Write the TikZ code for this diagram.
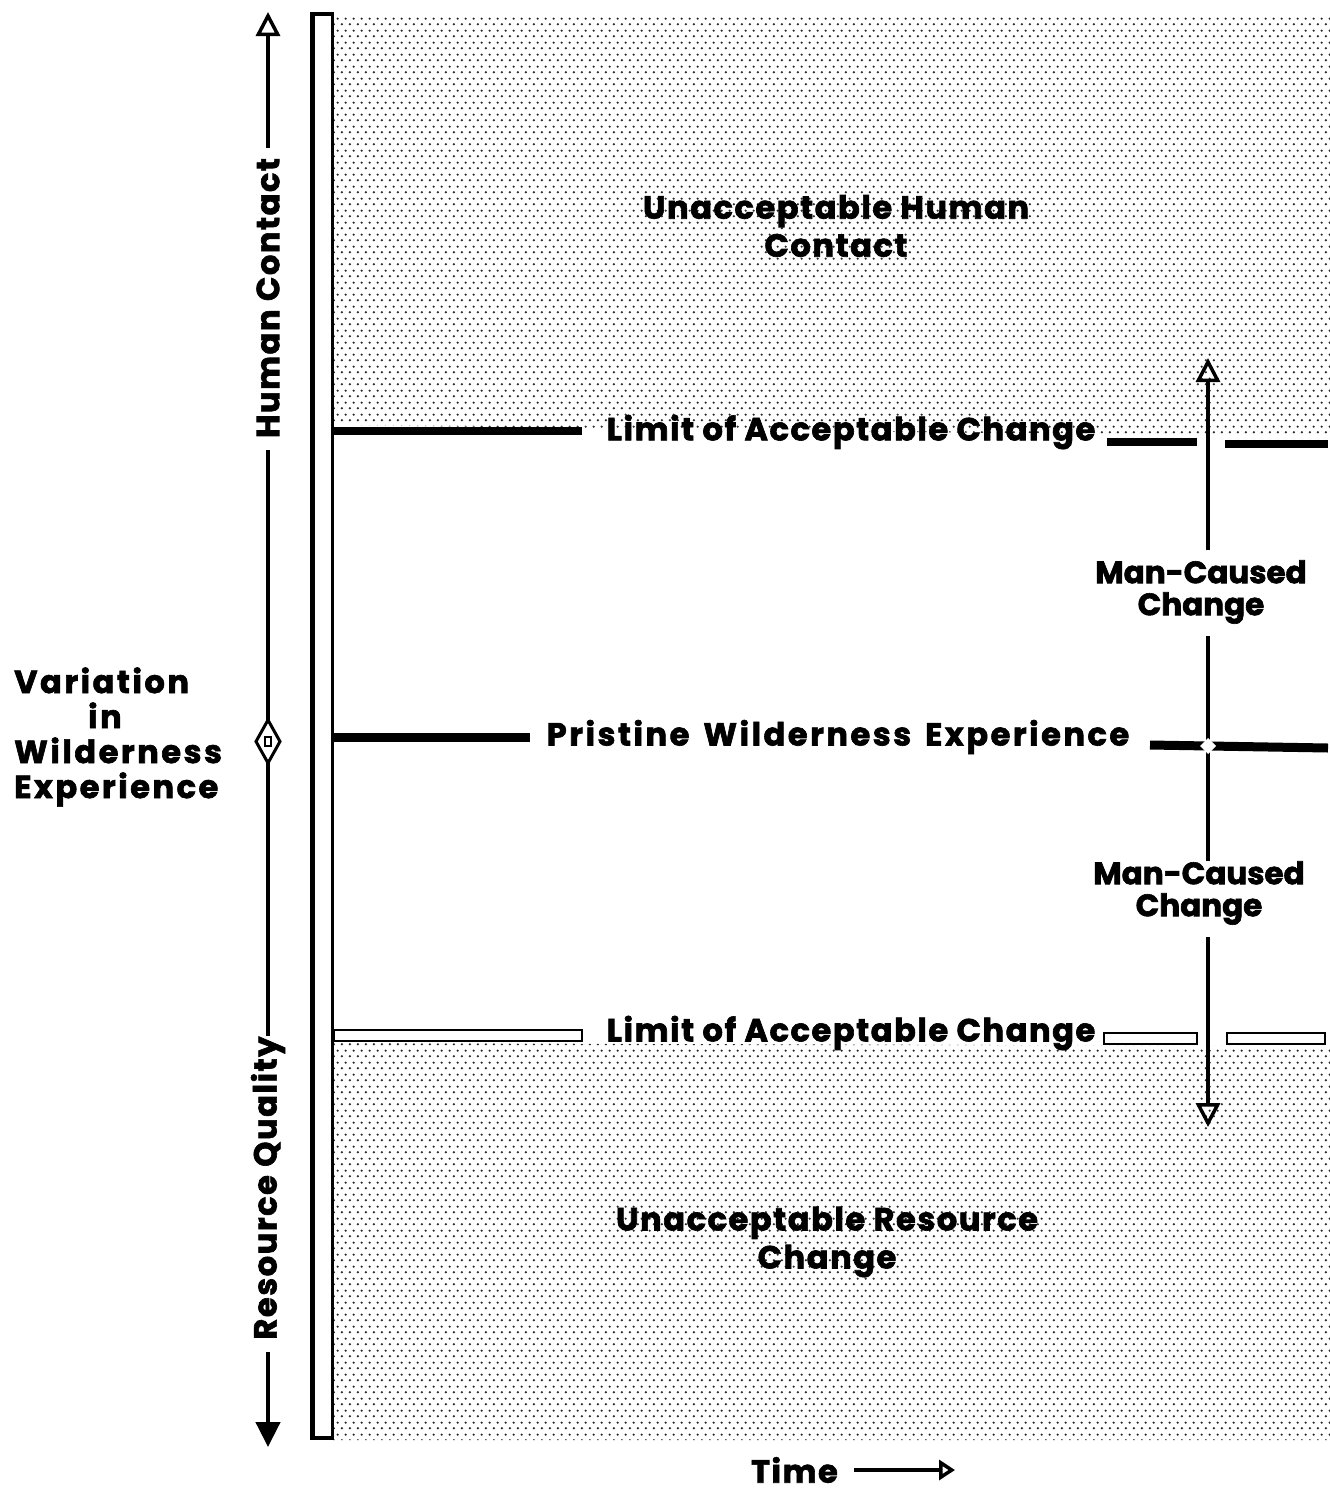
\documentclass[tikz,border=0pt]{standalone}
\usepackage{fontspec}
\setmainfont{Poppins}[BoldFeatures={FakeBold=2}]
\usetikzlibrary{arrows.meta,patterns}
\newcommand\widesp{\spaceskip=14pt\relax}
\pgfdeclarepatternformonly{stagdots}{\pgfqpoint{0pt}{0pt}}{\pgfqpoint{8.3pt}{12pt}}{\pgfqpoint{8.3pt}{12pt}}{%
  \pgfpathcircle{\pgfqpoint{2pt}{3pt}}{1.3pt}%
  \pgfpathcircle{\pgfqpoint{6.15pt}{9pt}}{1.3pt}%
  \pgfusepath{fill}}
\begin{document}
\begin{tikzpicture}[x=1pt,y=-1pt,
  lbl/.style={font=\fontsize{32}{38}\selectfont\bfseries\addfontfeature{LetterSpace=5}, inner sep=0pt, align=center},
  widelbl/.style={font=\fontsize{32}{35}\selectfont\bfseries\addfontfeature{LetterSpace=8}\widesp, inner sep=0pt, align=center},
  mclbl/.style={font=\fontsize{31}{32}\selectfont\bfseries, inner sep=0pt, align=center},
  dotfill/.style={pattern=stagdots, pattern color=black!85},
  hbar/.style={line width=8pt},
  hollowbar/.style={draw=black, line width=2.5pt, fill=white},
  axis/.style={line width=4.5pt},
  opentip/.style={-{Triangle[open,length=24pt,width=24pt,line width=3.5pt]}},
  filledtip/.style={-{Triangle[length=25pt,width=24pt]}},
]
\useasboundingbox (0,0) rectangle (1330,1491);
% shaded regions
\path[dotfill] (333,14) -- (1330,14) -- (1330,437) -- (333,425) -- cycle;
\path[dotfill] (333,1043) -- (1330,1046) -- (1330,1440) -- (333,1440) -- cycle;
% vertical bar
\node[name=bar, draw, line width=3.5pt, fill=white, minimum width=21pt, minimum height=1424pt, inner sep=0pt, outer sep=0pt] at (322,726) {};
\draw[line width=3pt] (313,14) -- (313,1438);
% labels
\node[lbl] (uhc) at (836,226) {Unacceptable Human\\Contact};
\node[lbl] (urc) at (827,1242) {Unacceptable Resource\\Change};
\node[lbl] (lac1) at (851,432) {Limit of Acceptable Change};
\node[widelbl] (pwe) at (838,737) {Pristine Wilderness Experience};
\node[lbl] (lac2) at (851,1033) {Limit of Acceptable Change};
\node[mclbl] (mc1) at (1201,592) {Man-Caused\\Change};
\node[mclbl] (mc2) at (1199,893) {Man-Caused\\Change};
\node[widelbl, align=left, anchor=west] (var) at (14,737) {Variation\\\hspace*{74pt}in\\Wilderness\\Experience};
\node[lbl, rotate=90] (hc) at (268,298) {Human Contact};
\node[lbl, rotate=90] (rq) at (268,1188) {Resource Quality};
\node[lbl, anchor=east] (time) at (838,1470) {Time};
% horizontal lines
\draw[hbar] (bar.east |- 0,431) -- (582,431);
\draw[hbar] (1107,442) -- (1197,442);
\draw[hbar] (1225,444) -- (1328,444);
\draw[line width=9pt] (bar.east |- 0,737) -- (530,737);
\draw[line width=9pt] (1150,745) -- (1328,748);
\path[hollowbar] (334,1030) rectangle (582,1041);
\path[hollowbar] (1104,1033) rectangle (1197,1044);
\path[hollowbar] (1227,1033) rectangle (1325,1044);
% right vertical arrow
\coordinate (rtop) at (1208,358);
\coordinate (rbot) at (1208,1127);
\draw[axis,opentip] (mc1.north -| rtop) ++(0,-10) -- (rtop);
\draw[axis] (mc1.south -| rtop) ++(0,12) -- (mc2.north -| rtop) ++(0,-10);
\draw[axis,opentip] (mc2.south -| rtop) ++(0,12) -- (rbot);
\fill[white] (1208,738) -- (1216,746) -- (1208,754) -- (1200,746) -- cycle;
% left axis
\coordinate (ltop) at (268,12);
\coordinate (lbot) at (268,1447);
\coordinate (dt) at (268,720);
\coordinate (db) at (268,763);
\draw[axis,opentip] (hc.east) ++(0,-10) -- (ltop);
\draw[axis] (hc.west) ++(0,12) -- (dt);
\draw[line width=3pt, fill=white] (dt) -- (280,741.5) -- (db) -- (256,741.5) -- cycle;
\draw[line width=2pt] (265,737) rectangle (271,746);
\draw[axis] (db) -- (rq.east) ++(0,-12);
\draw[axis,filledtip] (rq.west) ++(0,12) -- (lbot);
% time arrow
\draw[line width=4.5pt,-{Triangle[open,length=16pt,width=20pt,line width=3.5pt]}] (time.east) ++(16,0) -- (955,1470);
\end{tikzpicture}
\end{document}
